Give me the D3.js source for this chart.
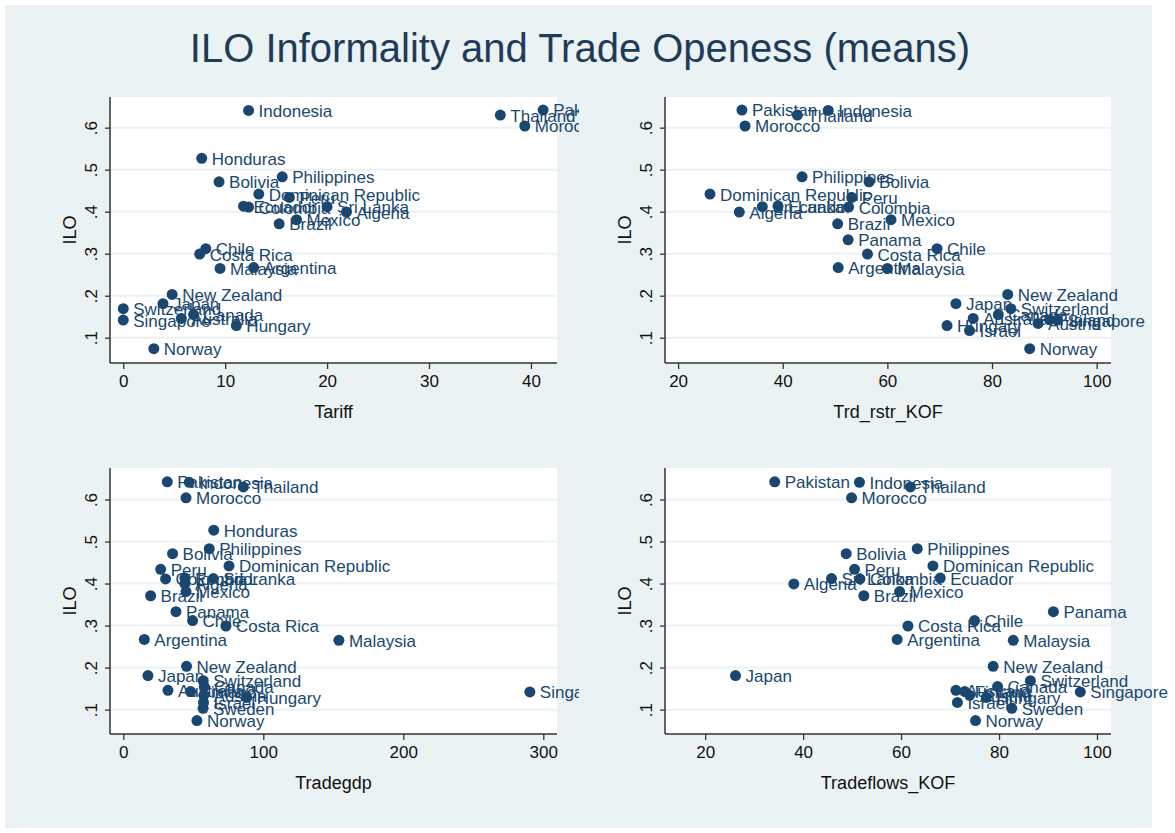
<!DOCTYPE html>
<html>
<head>
  <script src="https://d3js.org/d3.v7.min.js"></script>
  <style>
    body { margin: 0; background: #fff; font-family: 'Liberation Sans', Arial, sans-serif; }
    svg { display: block; }
  </style>
</head>
<body>
  <svg width="1175" height="833"></svg>
<script>
  // ILO informality means by country, against four trade openness measures
  var countries = ['Pakistan', 'Indonesia', 'Thailand', 'Morocco', 'Honduras', 'Philippines', 'Bolivia',
    'Dominican Republic', 'Peru', 'Ecuador', 'Colombia', 'Sri Lanka', 'Algeria', 'Mexico', 'Brazil',
    'Panama', 'Chile', 'Costa Rica', 'Argentina', 'Malaysia', 'New Zealand', 'Japan', 'Switzerland',
    'Canada', 'Australia', 'Finland', 'Singapore', 'Austria', 'Hungary', 'Israel', 'Sweden', 'Norway'];

  var ilo = [0.642, 0.641, 0.630, 0.604, 0.527, 0.483, 0.471,
    0.442, 0.434, 0.413, 0.411, 0.412, 0.399, 0.381, 0.371,
    0.333, 0.312, 0.299, 0.267, 0.265, 0.203, 0.181, 0.169,
    0.155, 0.146, 0.143, 0.142, 0.134, 0.129, 0.117, 0.103, 0.074];

  var tariff = [41.2, 12.3, 37.0, 39.4, 7.7, 15.6, 9.4,
    13.3, 16.3, 11.8, 12.3, 20.0, 21.9, 17.0, 15.3,
    null, 8.1, 7.5, 12.8, 9.5, 4.8, 3.9, 0,
    6.9, 5.7, null, 0, null, 11.1, null, null, 3.0];

  var trdRstrKOF = [32.2, 48.7, 42.8, 32.8, null, 43.7, 56.5,
    26.1, 53.2, 39.1, 52.6, 36.1, 31.7, 60.7, 50.5,
    52.5, 69.5, 56.2, 50.6, 60.0, 83.0, 73.1, 83.6,
    81.2, 76.4, 91.0, 92.5, 88.8, 71.4, 75.7, null, 87.2];

  var tradegdp = [31.4, 47.1, 85.7, 44.8, 64.6, 61.4, 35.2,
    75.5, 26.7, 44.0, 30.2, 64.3, 44.0, 44.8, 19.5,
    37.6, 49.5, 73.3, 15.0, 154.0, 45.2, 17.6, 57.1,
    57.8, 31.9, 48.1, 290.4, 57.5, 88.1, 57.3, 57.0, 52.6];

  var tradeflowsKOF = [34.2, 51.5, 61.9, 49.9, null, 63.3, 48.8,
    66.5, 50.5, 68.0, 51.6, 45.8, 38.1, 59.7, 52.4,
    91.1, 75.0, 61.4, 59.2, 82.9, 78.8, 26.2, 86.4,
    79.7, 71.2, 73.0, 96.6, 74.0, 77.4, 71.5, 82.6, 75.2];

  var yTicks = [0.1, 0.2, 0.3, 0.4, 0.5, 0.6];

  var svg = d3.select("svg");
  var navy = "#1a476f";

  // Stata-style outer background
  svg.append("rect").attr("x", 5).attr("y", 5).attr("width", 1147).attr("height", 823).attr("fill", "#eaf2f3");

  svg.append("text")
    .attr("x", 580).attr("y", 62)
    .attr("text-anchor", "middle")
    .attr("font-size", 40)
    .attr("fill", "#1e3b5a")
    .text("ILO Informality and Trade Openess (means)");

  var panels = [
    { title: "Tariff", values: tariff, left: 110, right: 557, top: 97, bottom: 363, xdom: [-1.3, 42.56], ydom: [0.0398, 0.673], xticks: [0, 10, 20, 30, 40], clip: [0, 579] },
    { title: "Trd_rstr_KOF", values: trdRstrKOF, left: 665, right: 1111, top: 97, bottom: 363, xdom: [17.5, 102.74], ydom: [0.0398, 0.673], xticks: [20, 40, 60, 80, 100], clip: [580, 1175] },
    { title: "Tradegdp", values: tradegdp, left: 110, right: 557, top: 468, bottom: 734, xdom: [-9.5, 309.8], ydom: [0.042, 0.675], xticks: [0, 100, 200, 300], clip: [0, 579] },
    { title: "Tradeflows_KOF", values: tradeflowsKOF, left: 665, right: 1111, top: 468, bottom: 734, xdom: [11.8, 102.86], ydom: [0.042, 0.675], xticks: [20, 40, 60, 80, 100], clip: [580, 1175] }
  ];

  panels.forEach(function (p, i) {
    var x = d3.scaleLinear().domain(p.xdom).range([p.left, p.right]);
    var y = d3.scaleLinear().domain(p.ydom).range([p.bottom, p.top]);
    var g = svg.append("g");

    g.append("rect")
      .attr("x", p.left).attr("y", p.top)
      .attr("width", p.right - p.left).attr("height", p.bottom - p.top)
      .attr("fill", "#fff");

    // gridlines
    g.append("g").selectAll("line").data(yTicks).enter().append("line")
      .attr("x1", p.left).attr("x2", p.right)
      .attr("y1", function (d) { return y(d); }).attr("y2", function (d) { return y(d); })
      .attr("stroke", "#eaf2f3").attr("stroke-width", 2);

    // y axis
    var ya = g.append("g").attr("transform", "translate(" + p.left + ",0)")
      .call(d3.axisLeft(y).tickValues(yTicks).tickSize(5).tickPadding(0)
        .tickFormat(function (d) { return d3.format(".1f")(d).replace(/^0/, ""); }));
    ya.select(".domain").attr("stroke", "#333").attr("stroke-width", 1.5).attr("d", "M0," + p.top + "V" + p.bottom);
    ya.selectAll(".tick line").attr("stroke", "#333").attr("stroke-width", 1.3);
    ya.selectAll(".tick text")
      .attr("x", null).attr("dy", null)
      .attr("transform", "translate(-13,0) rotate(-90)")
      .attr("text-anchor", "middle")
      .attr("font-size", 17).attr("font-family", "'Liberation Sans', Arial, sans-serif")
      .attr("fill", "#111");

    // x axis
    var xa = g.append("g").attr("transform", "translate(0," + p.bottom + ")")
      .call(d3.axisBottom(x).tickValues(p.xticks).tickSize(6).tickPadding(6));
    xa.select(".domain").attr("stroke", "#333").attr("stroke-width", 1.5).attr("d", "M" + p.left + ",0H" + p.right);
    xa.selectAll(".tick line").attr("stroke", "#333").attr("stroke-width", 1.3);
    xa.selectAll(".tick text")
      .attr("font-size", 17).attr("font-family", "'Liberation Sans', Arial, sans-serif")
      .attr("fill", "#111");

    // axis titles
    g.append("text")
      .attr("x", (p.left + p.right) / 2).attr("y", p.bottom + 55)
      .attr("text-anchor", "middle").attr("font-size", 18).attr("fill", "#111")
      .text(p.title);
    g.append("text")
      .attr("transform", "translate(" + (p.left - 34) + "," + ((p.top + p.bottom) / 2) + ") rotate(-90)")
      .attr("text-anchor", "middle").attr("font-size", 18).attr("fill", "#111")
      .text("ILO");

    // points and labels, clipped to the subgraph
    var clipId = "clip" + i;
    svg.append("clipPath").attr("id", clipId).append("rect")
      .attr("x", p.clip[0]).attr("y", 0).attr("width", p.clip[1] - p.clip[0]).attr("height", 833);

    var pts = countries.map(function (c, j) { return { name: c, xv: p.values[j], yv: ilo[j] }; })
      .filter(function (d) { return d.xv !== null; });

    var mg = g.append("g").attr("clip-path", "url(#" + clipId + ")");
    var item = mg.selectAll("g.pt").data(pts).enter().append("g").attr("class", "pt");
    item.append("circle")
      .attr("cx", function (d) { return x(d.xv); })
      .attr("cy", function (d) { return y(d.yv); })
      .attr("r", 5.5)
      .attr("fill", navy);
    item.append("text")
      .attr("x", function (d) { return x(d.xv) + 10; })
      .attr("y", function (d) { return y(d.yv); })
      .attr("dy", "0.38em")
      .attr("font-size", 17)
      .attr("fill", navy)
      .text(function (d) { return d.name; });
  });
</script>
</body>
</html>
